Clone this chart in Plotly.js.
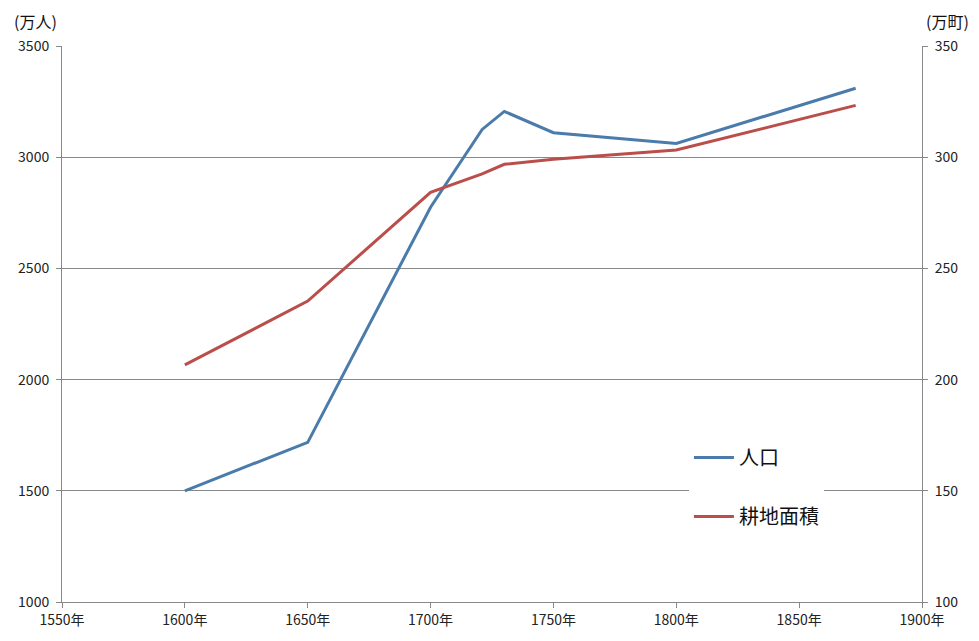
<!DOCTYPE html>
<html><head><meta charset="utf-8">
<script src="https://cdn.plot.ly/plotly-3.0.1.min.js"></script>
<style>html,body{margin:0;padding:0;background:#fff}#chart{width:979px;height:641px}</style>
</head><body><div id="chart"></div>
<script>
const popYears = [1600, 1650, 1700, 1721, 1730, 1750, 1800, 1850, 1873];
const population = [1500, 1718, 2775, 3125, 3206, 3110, 3062, 3230, 3310];
const landYears = [1600, 1650, 1700, 1721, 1730, 1750, 1800, 1850, 1873];
const farmland = [206.6, 235.3, 284.2, 292.5, 296.8, 299.1, 303.2, 317.2, 323.3];
const xTicks = [1550, 1600, 1650, 1700, 1750, 1800, 1850, 1900];
const xTickText = xTicks.map(v => v + '年');
const seriesNames = ['人口', '耕地面積'];
const leftUnit = '(万人)';
const rightUnit = '(万町)';

const font = 'Noto Sans CJK JP, Noto Sans, sans-serif';
const traces = [
  {x: popYears, y: population, name: seriesNames[0], type: 'scatter', mode: 'lines',
   line: {color: '#4A7BAB', width: 3}, legendgroup: 'a', yaxis: 'y'},
  {x: landYears, y: farmland, name: seriesNames[1], type: 'scatter', mode: 'lines',
   line: {color: '#BA4E4B', width: 3}, legendgroup: 'b', yaxis: 'y2'}
];
const layout = {
  width: 979, height: 641,
  margin: {l: 62, r: 57, t: 46, b: 39},
  paper_bgcolor: '#fff', plot_bgcolor: '#fff',
  font: {family: font, size: 14, color: '#222'},
  showlegend: true,
  legend: {x: 0.729, y: 0.295, xanchor: 'left', yanchor: 'top', bgcolor: '#fff',
    font: {size: 20, color: '#111'}, traceorder: 'grouped', tracegroupgap: 30, itemwidth: 40},
  xaxis: {range: [1550, 1900], tickvals: xTicks, ticktext: xTickText, showgrid: false,
    showline: true, linecolor: '#888', linewidth: 1, ticks: 'outside', ticklen: 5, tickcolor: '#888',
    zeroline: false, fixedrange: true, tickfont: {size: 14}},
  yaxis: {range: [1000, 3500], dtick: 500, showgrid: true, gridcolor: '#888', gridwidth: 1,
    showline: true, linecolor: '#888', ticks: 'outside', ticklen: 5, tickcolor: '#888', zeroline: false,
    tickfont: {size: 14}, ticklabelstandoff: 4},
  yaxis2: {range: [100, 350], dtick: 50, overlaying: 'y', side: 'right', showgrid: false,
    showline: true, linecolor: '#888', ticks: 'outside', ticklen: 5, tickcolor: '#888', zeroline: false,
    tickfont: {size: 14}, ticklabelstandoff: 4},
  annotations: [
    {text: leftUnit, xref: 'paper', yref: 'paper', x: 0, y: 1, xshift: -50, yshift: 25,
     xanchor: 'left', yanchor: 'middle', showarrow: false, font: {size: 16, color: '#111'}},
    {text: rightUnit, xref: 'paper', yref: 'paper', x: 1, y: 1, xshift: 2, yshift: 25,
     xanchor: 'left', yanchor: 'middle', showarrow: false, font: {size: 16, color: '#111'}}
  ]
};
Plotly.newPlot('chart', traces, layout, {displayModeBar: false, staticPlot: true});
</script></body></html>
